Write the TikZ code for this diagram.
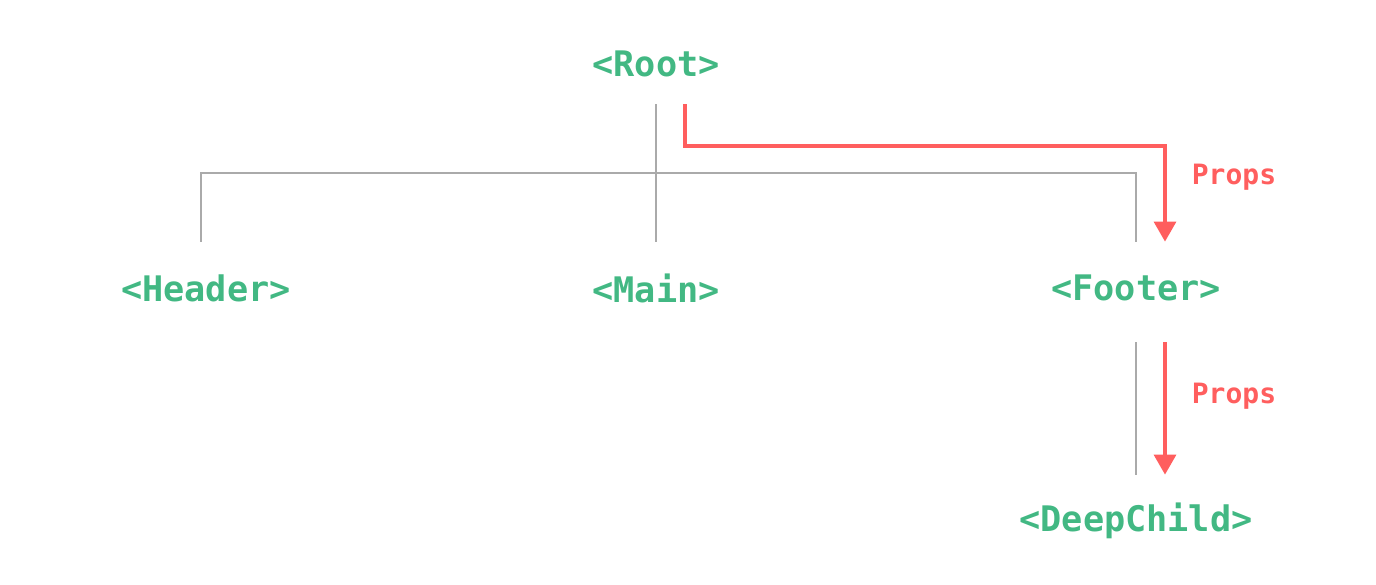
\documentclass[tikz,border=0pt]{standalone}
\usepackage{fontspec}
\setmonofont{DejaVu Sans Mono}
\usetikzlibrary{arrows.meta}
\definecolor{vuegreen}{HTML}{42B883}
\definecolor{propred}{HTML}{FF5E5E}
\definecolor{treegray}{HTML}{AAAAAA}
\tikzset{
	comp/.style={text=vuegreen,font=\ttfamily\bfseries\fontsize{17.6}{20}\selectfont,inner sep=0pt,minimum height=46pt},
	tree/.style={draw=treegray,line width=1pt},
	props/.style={draw=propred,line width=1.6pt,-{Triangle[length=10pt,width=11pt]}},
	lbl/.style={text=propred,font=\ttfamily\bfseries\fontsize{14}{16}\selectfont,inner sep=0pt}
}
\begin{document}
\begin{tikzpicture}[x=0.5pt,y=-0.5pt]
		\useasboundingbox (0,0) rectangle (1376,584);
		
		\node[comp] (root) at (656,64) {<Root>};
		\node[comp] (header) at (206,288) {<Header>};
		\node[comp] (main) at (656,288) {<Main>};
		\node[comp] (footer) at (1136,288) {<Footer>};
		\node[comp] (deep) at (1136,521) {<DeepChild>};
		
		\coordinate (bar) at (0,173);
		\coordinate (redbar) at (0,146);
		
		\draw[tree,shorten <=-3pt] (root.south) -- (main.north);
		\draw[tree] ([xshift=-2.5pt]header.north) |- (footer.north |- bar) -- (footer.north);
		\draw[tree,shorten <=4pt] (footer.south) -- (deep.north);
		
		\draw[props,shorten <=-3pt] ([xshift=14.5pt]root.south) |- ([xshift=14.5pt]footer.north |- redbar) -- ([xshift=14.5pt]footer.north);
		\draw[props,shorten <=4pt] ([xshift=14.5pt]footer.south) -- ([xshift=14.5pt]deep.north);
		
		\node[lbl] (p1) at (1234,177) {Props};
		\node[lbl] (p2) at (1234,396) {Props};
		\end{tikzpicture}
\end{document}
